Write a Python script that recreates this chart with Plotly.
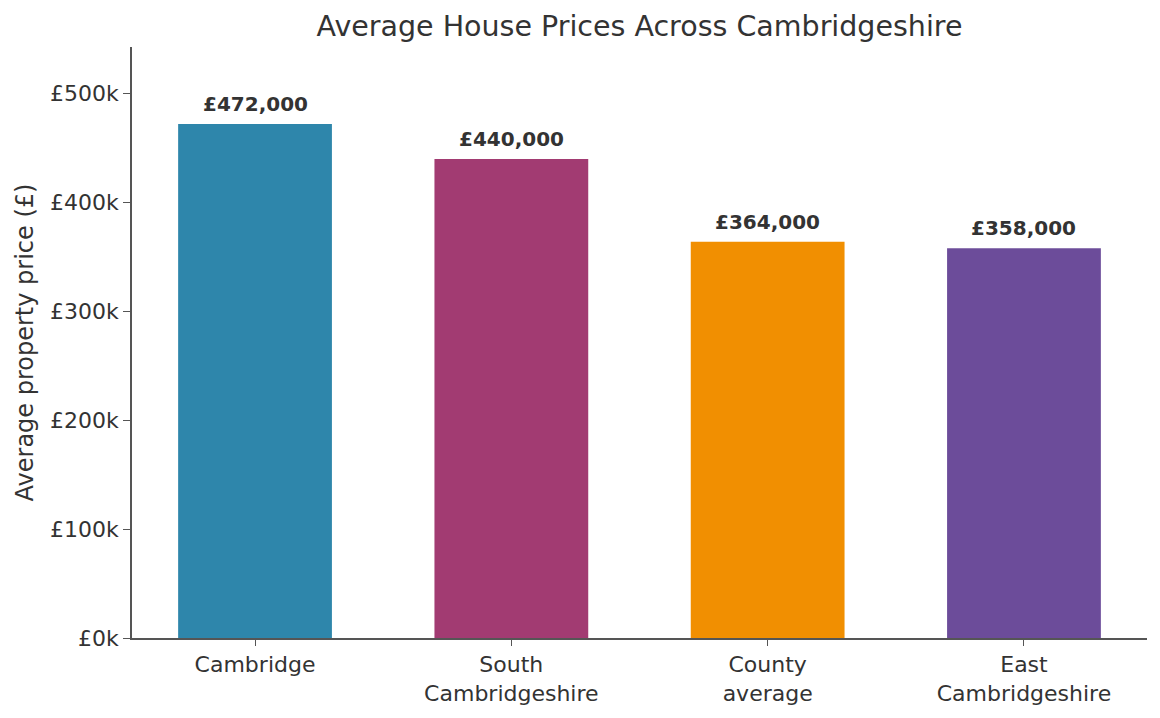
import plotly.graph_objects as go

categories = ["Cambridge", "South<br>Cambridgeshire", "County<br>average", "East<br>Cambridgeshire"]
values = [472000, 440000, 364000, 358000]
colors = ["#2E86AB", "#A23B72", "#F18F01", "#6C4C9A"]
tick_vals = [0, 100000, 200000, 300000, 400000, 500000]
tick_text = ["£0k", "£100k", "£200k", "£300k", "£400k", "£500k"]
labels = ["£{:,.0f}".format(v) for v in values]

FONT = "DejaVu Sans"
fig = go.Figure()
fig.add_trace(go.Bar(
    x=list(range(len(categories))), y=values, marker=dict(color=colors, line=dict(width=0)),
    width=0.6, showlegend=False, hoverinfo="skip",
))
for i, (v, t) in enumerate(zip(values, labels)):
    fig.add_annotation(x=i, y=v, text="<b>" + t + "</b>", showarrow=False,
                       yanchor="bottom", yshift=6,
                       font=dict(family=FONT, size=20, color="#333333"))

fig.update_layout(
    width=1160, height=718,
    margin=dict(l=132, r=13, t=47, b=76),
    paper_bgcolor="white", plot_bgcolor="white",
    font=dict(family=FONT, color="#333333"),
    title=dict(text="Average House Prices Across Cambridgeshire", x=0.5, xanchor="center", xref="paper",
               y=1 - 26 / 718, yanchor="middle", font=dict(family=FONT, size=28.5, color="#333333")),
    xaxis=dict(range=[-0.48, 3.48], tickmode="array", tickvals=list(range(len(categories))),
               ticktext=categories, showline=True, linecolor="#555555", linewidth=1.5,
               ticks="outside", ticklen=6, tickcolor="#555555", showgrid=False, zeroline=False,
               tickfont=dict(family=FONT, size=22, color="#333333")),
    yaxis=dict(range=[0, 542800], tickmode="array", tickvals=tick_vals, ticktext=tick_text,
               showline=True, linecolor="#555555", linewidth=1.5, ticks="outside", ticklen=7,
               tickcolor="#555555", showgrid=False, zeroline=False,
               tickfont=dict(family=FONT, size=22, color="#333333"),
               title=dict(text="Average property price (£)", font=dict(family=FONT, size=24, color="#333333"),
                          standoff=10)),
)
fig.write_html("out.html")
